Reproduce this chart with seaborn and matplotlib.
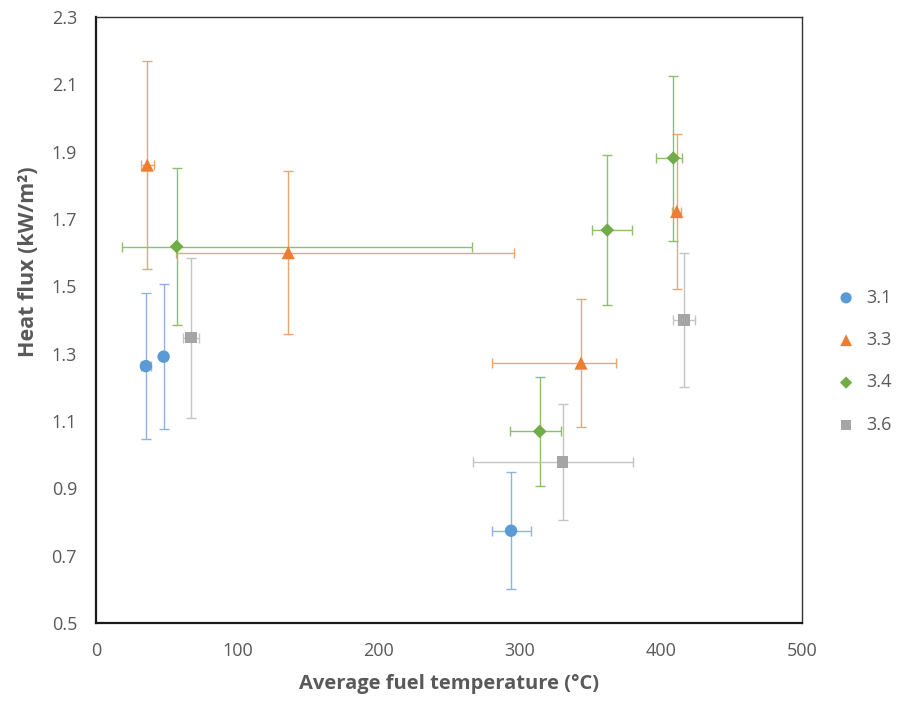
"""
Heat flux vs average fuel temperature, scatter with x/y error bars.
"""

import matplotlib
matplotlib.use("Agg")
import matplotlib.pyplot as plt
import seaborn as sns
import pandas as pd

# --- data ---
series = ["3.1", "3.3", "3.4", "3.6"]

s31_x = [35.0, 47.6, 293.8]
s31_y = [1.263, 1.291, 0.774]
s31_yerr = [0.217, 0.215, 0.173]
s31_xlo = [3.5, 0.0, 13.8]
s31_xhi = [3.5, 0.0, 13.8]

s33_x = [36.0, 135.9, 343.4, 411.2]
s33_y = [1.860, 1.600, 1.272, 1.722]
s33_yerr = [0.310, 0.242, 0.190, 0.230]
s33_xlo = [4.5, 79.6, 63.3, 3.0]
s33_xhi = [4.5, 160.0, 24.8, 3.0]

s34_x = [56.8, 314.1, 362.0, 408.8]
s34_y = [1.618, 1.069, 1.667, 1.881]
s34_yerr = [0.234, 0.163, 0.224, 0.245]
s34_xlo = [38.5, 21.0, 11.0, 12.5]
s34_xhi = [209.5, 15.3, 17.3, 6.2]

s36_x = [67.0, 330.4, 416.4]
s36_y = [1.347, 0.978, 1.400]
s36_yerr = [0.238, 0.171, 0.200]
s36_xlo = [5.5, 63.3, 7.5]
s36_xhi = [5.5, 50.0, 7.5]

x_ticks = [0, 100, 200, 300, 400, 500]
y_ticks = [0.5, 0.7, 0.9, 1.1, 1.3, 1.5, 1.7, 1.9, 2.1, 2.3]

colors = {"3.1": "#5B9BD5", "3.3": "#ED7D31", "3.4": "#70AD47", "3.6": "#A5A5A5"}
bar_colors = {"3.1": "#8DB3DE", "3.3": "#F1A46E", "3.4": "#8EBF6E", "3.6": "#C4C4C4"}
markers = {"3.1": "o", "3.3": "^", "3.4": "D", "3.6": "s"}
sizes = {"3.1": 80, "3.3": 90, "3.4": 48, "3.6": 64}

raw = {
    "3.1": (s31_x, s31_y, s31_yerr, s31_xlo, s31_xhi),
    "3.3": (s33_x, s33_y, s33_yerr, s33_xlo, s33_xhi),
    "3.4": (s34_x, s34_y, s34_yerr, s34_xlo, s34_xhi),
    "3.6": (s36_x, s36_y, s36_yerr, s36_xlo, s36_xhi),
}

frames = []
for name in series:
    x, y, ye, xlo, xhi = raw[name]
    frames.append(pd.DataFrame({"temp": x, "flux": y, "yerr": ye,
                                "xlo": xlo, "xhi": xhi, "series": name}))
df = pd.concat(frames, ignore_index=True)

sns.set_theme(style="white")
plt.rcParams["font.family"] = ["Open Sans", "DejaVu Sans"]

fig = plt.figure(figsize=(9.05, 7.04), dpi=100)
ax = fig.add_axes([0.1066, 0.1151, 0.7796, 0.8608])

# error bars first so markers sit on top
for name in series:
    d = df[df["series"] == name]
    ax.errorbar(d["temp"], d["flux"], yerr=d["yerr"],
                xerr=[d["xlo"], d["xhi"]], fmt="none",
                ecolor=bar_colors[name], elinewidth=1.0, capsize=3.5,
                capthick=1.0, zorder=2)

for name in series:
    d = df[df["series"] == name]
    sns.scatterplot(data=d, x="temp", y="flux", ax=ax, color=colors[name],
                    marker=markers[name], s=sizes[name], edgecolor="none",
                    label=name, zorder=3)

ax.set_xlim(0, 500)
ax.set_ylim(0.5, 2.3)
ax.set_xticks(x_ticks)
ax.set_yticks(y_ticks)
ax.set_yticklabels([f"{v:.1f}" for v in y_ticks])
ax.tick_params(axis="both", direction="out", length=5, width=1,
               color="#404040", labelcolor="#595959", labelsize=13)
ax.tick_params(axis="y", pad=9)
ax.tick_params(axis="x", pad=9)

for side in ["left", "bottom"]:
    ax.spines[side].set_color("#1a1a1a")
    ax.spines[side].set_linewidth(1.6)
for side in ["top", "right"]:
    ax.spines[side].set_color("#333333")
    ax.spines[side].set_linewidth(1.0)

ax.set_xlabel("Average fuel temperature (°C)", fontsize=14.5,
              fontweight="bold", color="#595959", labelpad=10)
ax.set_ylabel("Heat flux (kW/m²)", fontsize=15.5, fontweight="bold",
              color="#595959", labelpad=9)
# the reference's y title sits above the axis middle
ax.yaxis.label.set_y(0.596)

ax.legend_.remove()
handles, labels = ax.get_legend_handles_labels()
fig.legend(handles, labels, loc="center left", bbox_to_anchor=(0.897, 0.487),
           frameon=False, fontsize=13, labelcolor="#595959",
           handletextpad=0.1, labelspacing=1.35, markerscale=0.9)

fig.savefig("out.png", dpi=100)
